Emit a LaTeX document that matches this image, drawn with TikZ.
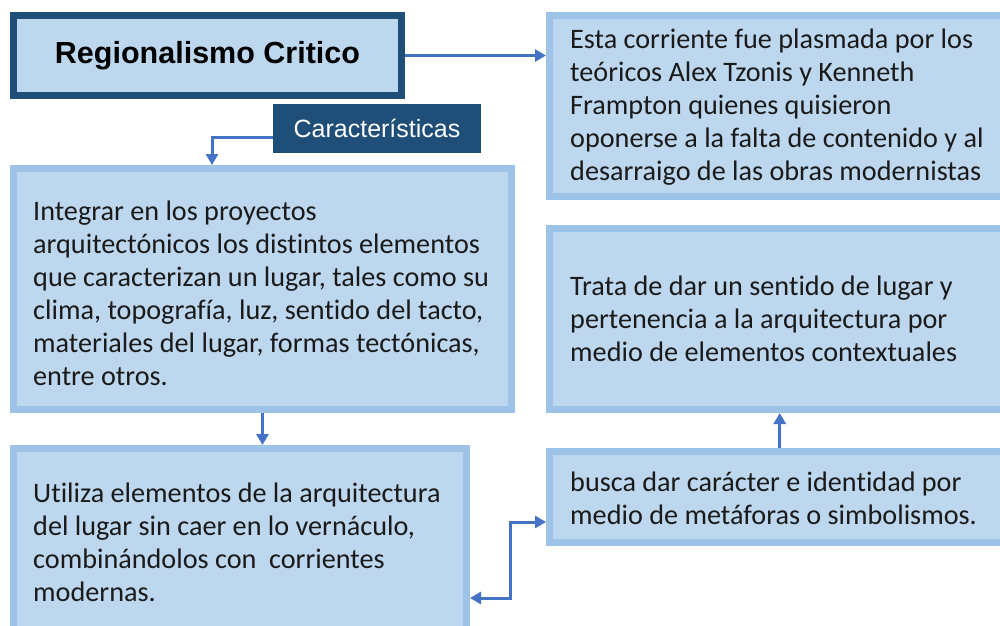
\documentclass[tikz,border=0pt]{standalone}
\usepackage{fontspec}
\setmainfont[Ligatures=NoCommon]{Carlito}
\newfontfamily\arialf{Liberation Sans}
\usetikzlibrary{arrows.meta}
\definecolor{lfill}{HTML}{BDD7EE}
\definecolor{lborder}{HTML}{9DC3E6}
\definecolor{dnavy}{HTML}{1F4E79}
\definecolor{arrblue}{HTML}{4472C4}
\definecolor{txtc}{HTML}{1A1A1A}
\tikzset{
  lbox/.style={draw=lborder, fill=lfill, line width=7pt, inner sep=0pt, rectangle},
  titlebox/.style={draw=dnavy, fill=lfill, line width=7pt, inner sep=0pt, rectangle,
     font={\arialf\bfseries\fontsize{30.5}{36}\selectfont}, text=black},
  tagbox/.style={fill=dnavy, inner sep=0pt, rectangle, text=white,
     font={\arialf\fontsize{25}{30}\selectfont}},
  txt/.style={anchor=west, align=left, inner sep=0pt, text=txtc,
     font={\fontsize{28.2}{33}\selectfont}},
  arr/.style={draw=arrblue, line width=3pt, -{Triangle[length=11pt,width=12pt]}},
  darr/.style={draw=arrblue, line width=3pt, {Triangle[length=11pt,width=12pt]}-{Triangle[length=11pt,width=12pt]}},
}
\begin{document}
\begin{tikzpicture}[x=1pt,y=-1pt]
\useasboundingbox (0,0) rectangle (1000,625);
\clip (0,0) rectangle (1000,625);
\fill[white] (0,0) rectangle (1000,625);
% boxes
\node[titlebox, minimum width=388pt, minimum height=80pt] (title) at (207.5,55.5) {Regionalismo Critico};
\node[tagbox, minimum width=208pt, minimum height=49pt] (car) at (377,128.5) {Características};
\node[lbox, minimum width=498pt, minimum height=241pt] (b1) at (262.5,289) {};
\node[lbox, minimum width=453pt, minimum height=211.5pt] (b2) at (240,554.25) {};
\node[lbox, minimum width=460.5pt, minimum height=181pt] (esta) at (779.75,106) {};
\node[lbox, minimum width=460.5pt, minimum height=181pt] (trata) at (779.75,319) {};
\node[lbox, minimum width=460.5pt, minimum height=91pt] (busca) at (779.75,497) {};
% texts
\node[txt] (t1) at (33,293) {Integrar en los proyectos\\arquitectónicos los distintos elementos\\que caracterizan un lugar, tales como su\\clima, topografía, luz, sentido del tacto,\\materiales del lugar, formas tectónicas,\\entre otros.};
\node[txt] (t2) at (33,542) {Utiliza elementos de la arquitectura\\del lugar sin caer en lo vernáculo,\\combinándolos con\ \ corrientes\\modernas.};
\node[txt] (t3) at (570,107) {Esta corriente fue plasmada por los\\teóricos Alex Tzonis y Kenneth\\Frampton quienes quisieron\\oponerse a la falta de contenido y al\\desarraigo de las obras modernistas};
\node[txt] (t4) at (570,319) {Trata de dar un sentido de lugar y\\pertenencia a la arquitectura por\\medio de elementos contextuales};
\node[txt] (t5) at (570,498) {busca dar carácter e identidad por\\medio de metáforas o simbolismos.};
% connectors
\draw[arr] (title.east) -- (title.east -| esta.west);
\coordinate (c1) at (212,137);
\draw[arr] (car.west |- c1) -- (c1) -- (c1 |- b1.north);
\draw[arr] (b1.south) -- (b1.south |- b2.north);
\draw[arr] (busca.north) -- (trata.south);
\coordinate (k1) at (510,598);
\coordinate (k2) at (510,522);
\draw[darr] (k1 -| b2.east) -- (k1) -- (k2) -- (k2 -| busca.west);
\end{tikzpicture}
\end{document}
